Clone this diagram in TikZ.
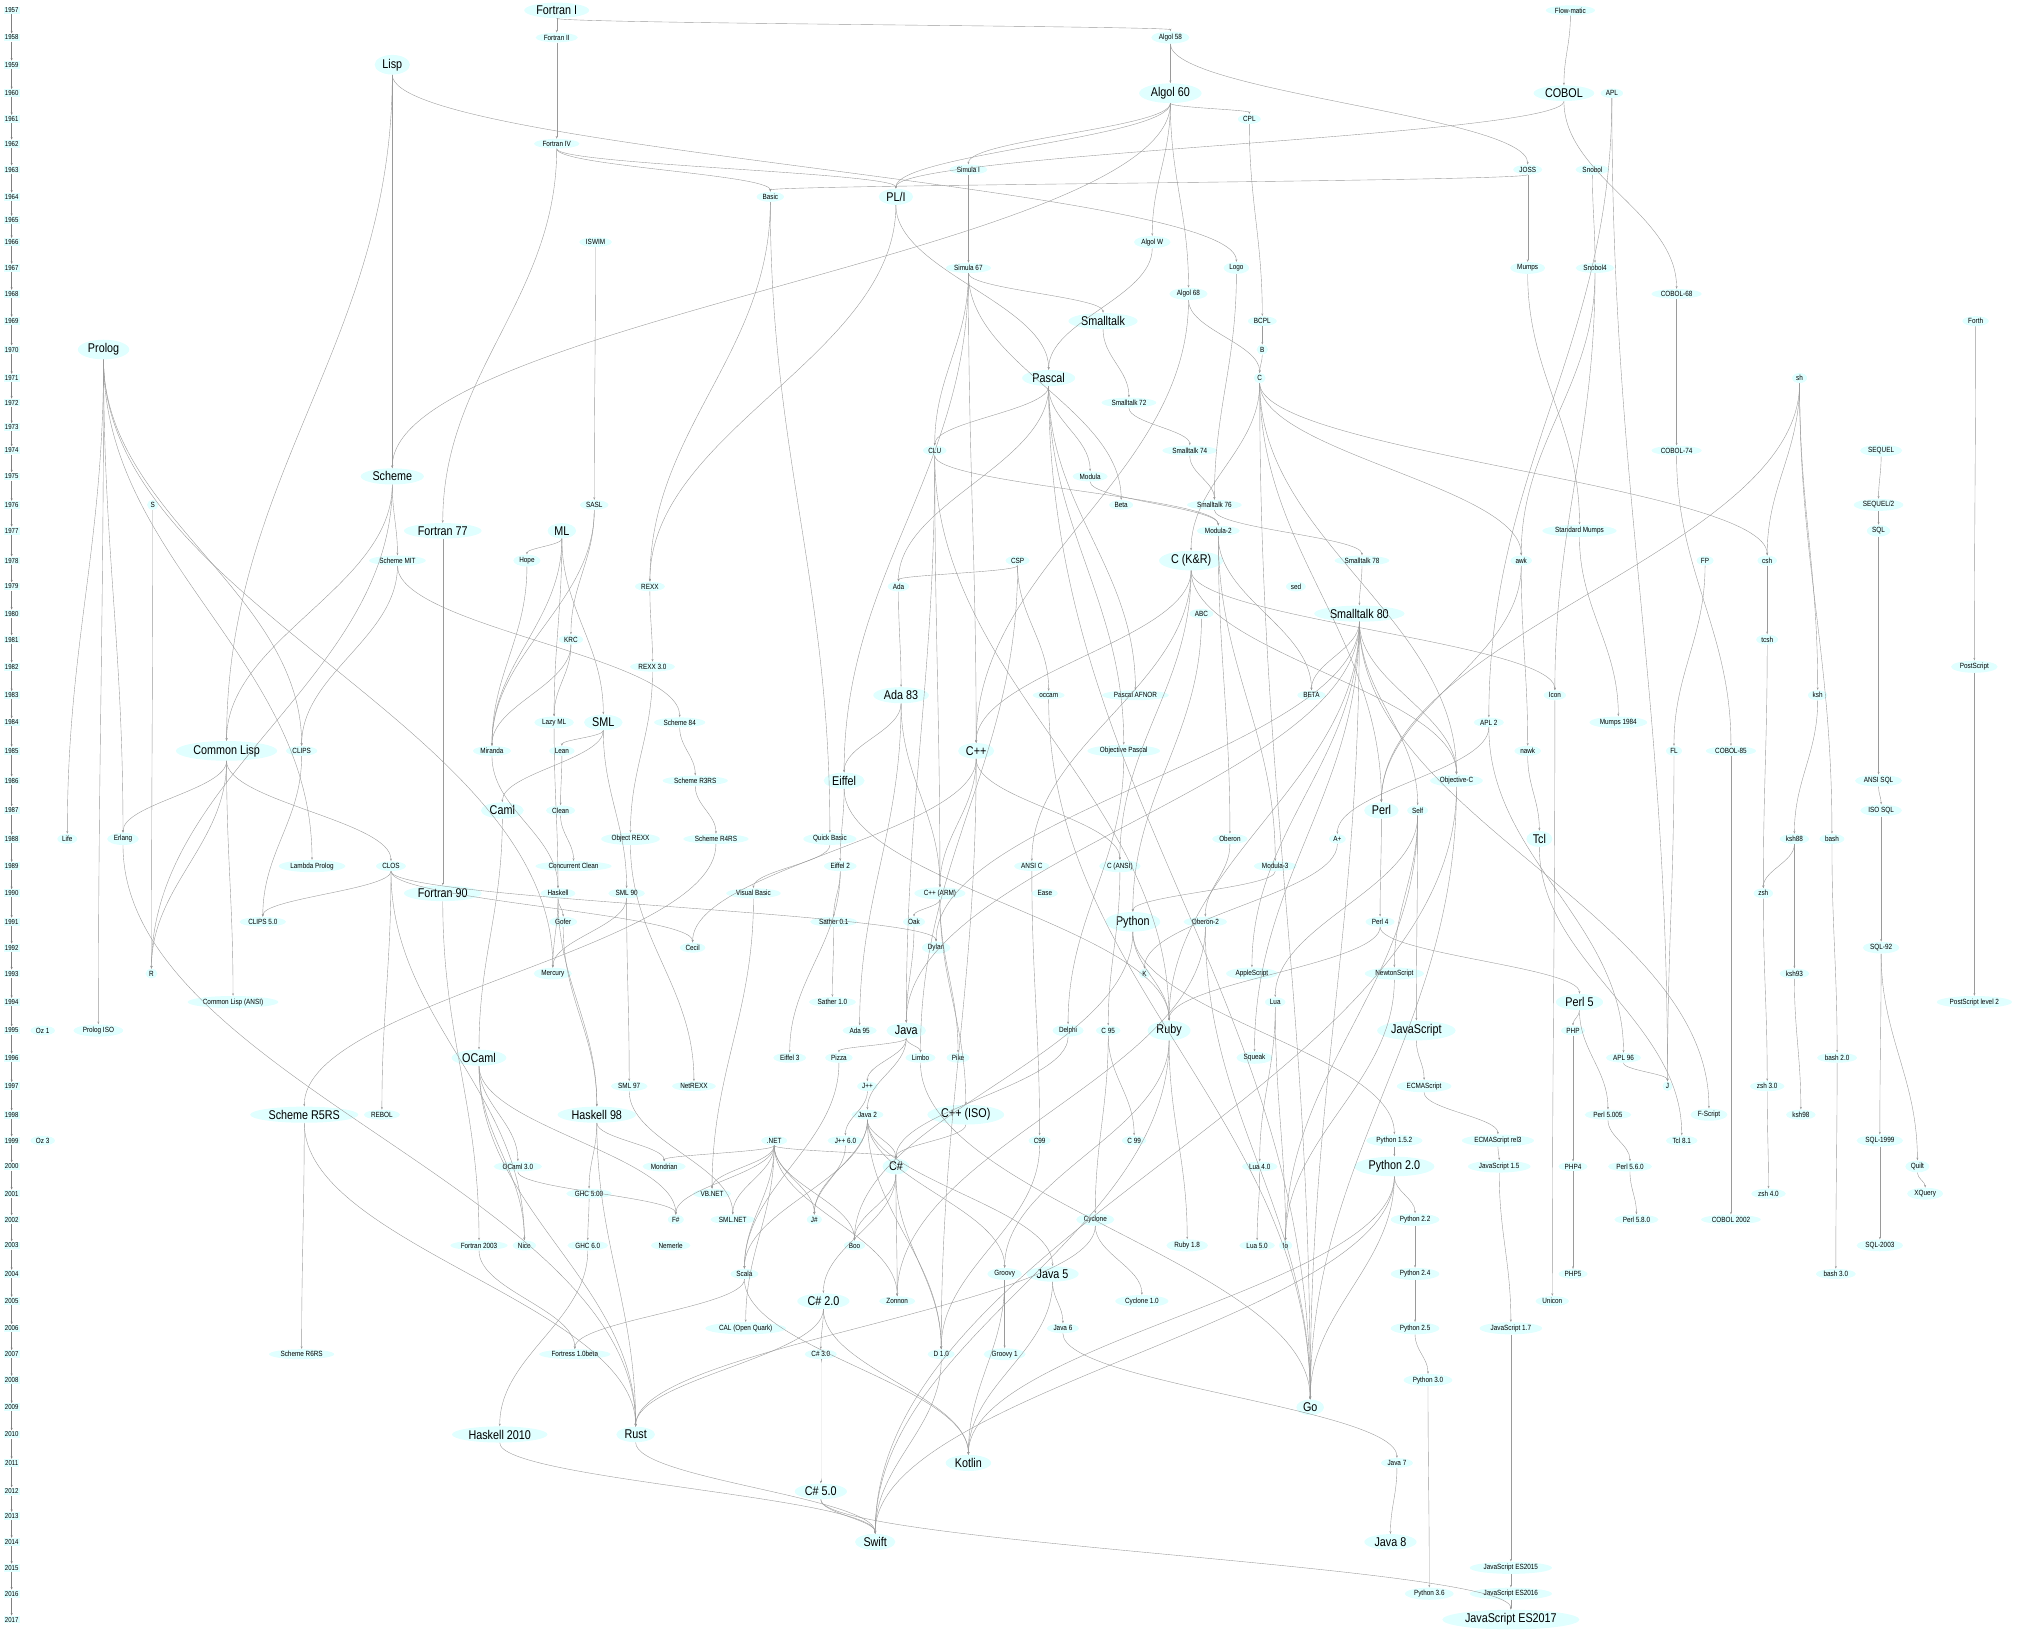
\documentclass[tikz,border=0pt]{standalone}
\usepackage{fontspec}
\setmainfont{Liberation Sans}[FakeStretch=0.85]
\usetikzlibrary{shapes.geometric,arrows.meta,calc}
\definecolor{nodefill}{HTML}{E0FFFF}
\definecolor{edgecol}{HTML}{9A9A9A}
\foreach \yr/\yy in {1957/8,1958/29,1959/50,1960/72,1961/92,1962/111,1963/131,1964/152,1965/170,1966/187,1967/207,1968/227,1969/248,1970/270,1971/292,1972/311,1973/330,1974/348,1975/368,1976/390,1977/410,1978/433,1979/453,1980/474,1981/494,1982/515,1983/537,1984/558,1985/580,1986/603,1987/626,1988/648,1989/669,1990/690,1991/712,1992/732,1993/752,1994/774,1995/796,1996/817,1997/839,1998/861,1999/881,2000/901,2001/922,2002/942,2003/962,2004/984,2005/1005,2006/1026,2007/1046,2008/1066,2009/1087,2010/1108,2011/1130,2012/1152,2013/1171,2014/1191,2015/1211,2016/1231,2017/1251}{\expandafter\xdef\csname yr\yr\endcsname{\yy}}
\newcommand\Ln[4]{\node[sm] (#1) at (#2,-\csname yr#3\endcsname) {#4};}
\newcommand\Bn[4]{\node[bg] (#1) at (#2,-\csname yr#3\endcsname) {#4};}
\begin{document}
\begin{tikzpicture}[x=1pt,y=1pt,
  sm/.style={ellipse,fill=nodefill,inner xsep=1.5pt,inner ysep=0.6pt,font=\fontsize{5.8}{6}\selectfont},
  bg/.style={ellipse,fill=nodefill,inner xsep=2pt,inner ysep=0.8pt,font=\fontsize{9.8}{10}\selectfont},
  yrs/.style={rectangle,fill=nodefill,inner sep=1pt,font=\fontsize{5.5}{6}\selectfont},
  tip/.style={-{Stealth[length=2pt,width=1.5pt]}},
  ed/.style={draw=edgecol,line width=0.3pt,tip}]
\useasboundingbox (0,0) rectangle (1568,-1260);
% years
\foreach \yr in {1957,...,2017}{\node[yrs] (y\yr) at (9,-\csname yr\yr\endcsname) {\yr};}
\foreach \yr [evaluate=\yr as \nx using int(\yr+1)] in {1957,...,2016}{\draw[line width=0.25pt,draw=black!50,tip] (y\yr) -- (y\nx);}
% nodes
\Bn{fortranI}{430}{1957}{Fortran I}
\Ln{flowmatic}{1213}{1957}{Flow-matic}
\Ln{fortranII}{430}{1958}{Fortran II}
\Ln{algol58}{904}{1958}{Algol 58}
\Bn{lisp}{303}{1959}{Lisp}
\Bn{algol60}{904}{1960}{Algol 60}
\Bn{cobol}{1208}{1960}{COBOL}
\Ln{apl}{1245}{1960}{APL}
\Ln{cpl}{965}{1961}{CPL}
\Ln{fortranIV}{430}{1962}{Fortran IV}
\Ln{simulaI}{748}{1963}{Simula I}
\Ln{joss}{1180}{1963}{JOSS}
\Ln{snobol}{1230}{1963}{Snobol}
\Ln{basic}{595}{1964}{Basic}
\Bn{pli}{692}{1964}{PL/I}
\Ln{iswim}{460}{1966}{ISWIM}
\Ln{algolw}{890}{1966}{Algol W}
\Ln{simula67}{748}{1967}{Simula 67}
\Ln{logo}{955}{1967}{Logo}
\Ln{mumps}{1180}{1967}{Mumps}
\Ln{snobol4}{1232}{1967}{Snobol4}
\Ln{algol68}{918}{1968}{Algol 68}
\Ln{cobol68}{1295}{1968}{COBOL-68}
\Bn{smalltalk}{852}{1969}{Smalltalk}
\Ln{bcpl}{975}{1969}{BCPL}
\Ln{forth}{1526}{1969}{Forth}
\Bn{prolog}{80}{1970}{Prolog}
\Ln{bb}{975}{1970}{B}
\Bn{pascal}{810}{1971}{Pascal}
\Ln{cc}{973}{1971}{C}
\Ln{sh}{1390}{1971}{sh}
\Ln{st72}{872}{1972}{Smalltalk 72}
\Ln{clu}{722}{1974}{CLU}
\Ln{st74}{919}{1974}{Smalltalk 74}
\Ln{cobol74}{1295}{1974}{COBOL-74}
\Ln{sequel}{1453}{1974}{SEQUEL}
\Bn{scheme}{303}{1975}{Scheme}
\Ln{modula}{842}{1975}{Modula}
\Ln{ss}{118}{1976}{S}
\Ln{sasl}{459}{1976}{SASL}
\Ln{beta}{866}{1976}{Beta}
\Ln{st76}{938}{1976}{Smalltalk 76}
\Ln{sequel2}{1451}{1976}{SEQUEL/2}
\Bn{fortran77}{342}{1977}{Fortran 77}
\Bn{ml}{434}{1977}{ML}
\Ln{modula2}{941}{1977}{Modula-2}
\Ln{stdmumps}{1220}{1977}{Standard Mumps}
\Ln{sql}{1451}{1977}{SQL}
\Ln{schememit}{307}{1978}{Scheme MIT}
\Ln{hope}{407}{1978}{Hope}
\Ln{csp}{786}{1978}{CSP}
\Bn{ckr}{920}{1978}{C (K\&R)}
\Ln{st78}{1052}{1978}{Smalltalk 78}
\Ln{awk}{1175}{1978}{awk}
\Ln{fp}{1317}{1978}{FP}
\Ln{csh}{1365}{1978}{csh}
\Ln{rexx}{502}{1979}{REXX}
\Ln{ada}{694}{1979}{Ada}
\Ln{sed}{1001}{1979}{sed}
\Ln{abc}{928}{1980}{ABC}
\Bn{st80}{1050}{1980}{Smalltalk 80}
\Ln{krc}{441}{1981}{KRC}
\Ln{tcsh}{1365}{1981}{tcsh}
\Ln{rexx3}{504}{1982}{REXX 3.0}
\Ln{postscript}{1525}{1982}{PostScript}
\Bn{ada83}{696}{1983}{Ada 83}
\Ln{occam}{810}{1983}{occam}
\Ln{pafnor}{877}{1983}{Pascal AFNOR}
\Ln{betaII}{1013}{1983}{BETA}
\Ln{icon}{1201}{1983}{Icon}
\Ln{ksh}{1404}{1983}{ksh}
\Ln{lazyml}{428}{1984}{Lazy ML}
\Bn{sml}{466}{1984}{SML}
\Ln{scheme84}{525}{1984}{Scheme 84}
\Ln{apl2}{1150}{1984}{APL 2}
\Ln{mumps84}{1250}{1984}{Mumps 1984}
\Bn{commonlisp}{175}{1985}{Common Lisp}
\Ln{clips}{233}{1985}{CLIPS}
\Ln{miranda}{380}{1985}{Miranda}
\Ln{lean}{434}{1985}{Lean}
\Bn{cpp}{754}{1985}{C++}
\Ln{objpascal}{868}{1985}{Objective Pascal}
\Ln{nawk}{1180}{1985}{nawk}
\Ln{fl}{1293}{1985}{FL}
\Ln{cobol85}{1337}{1985}{COBOL-85}
\Ln{r3rs}{537}{1986}{Scheme R3RS}
\Bn{eiffel}{652}{1986}{Eiffel}
\Ln{objc}{1125}{1986}{Objective-C}
\Ln{ansisql}{1451}{1986}{ANSI SQL}
\Bn{caml}{388}{1987}{Caml}
\Ln{clean}{433}{1987}{Clean}
\Bn{perl}{1067}{1987}{Perl}
\Ln{self}{1095}{1987}{Self}
\Ln{isosql}{1453}{1987}{ISO SQL}
\Ln{life}{52}{1988}{Life}
\Ln{erlang}{95}{1988}{Erlang}
\Ln{objrexx}{487}{1988}{Object REXX}
\Ln{r4rs}{553}{1988}{Scheme R4RS}
\Ln{quickbasic}{641}{1988}{Quick Basic}
\Ln{oberon}{950}{1988}{Oberon}
\Ln{aplus}{1033}{1988}{A+}
\Bn{tcl}{1189}{1988}{Tcl}
\Ln{ksh88}{1386}{1988}{ksh88}
\Ln{bash}{1415}{1988}{bash}
\Ln{lambdaprolog}{241}{1989}{Lambda Prolog}
\Ln{clos}{302}{1989}{CLOS}
\Ln{cclean}{443}{1989}{Concurrent Clean}
\Ln{eiffel2}{649}{1989}{Eiffel 2}
\Ln{ansic}{797}{1989}{ANSI C}
\Ln{cansi}{865}{1989}{C (ANSI)}
\Ln{modula3}{985}{1989}{Modula-3}
\Bn{fortran90}{342}{1990}{Fortran 90}
\Ln{haskell}{431}{1990}{Haskell}
\Ln{sml90}{484}{1990}{SML 90}
\Ln{vb}{582}{1990}{Visual Basic}
\Ln{cpparm}{726}{1990}{C++ (ARM)}
\Ln{ease}{807}{1990}{Ease}
\Ln{zsh}{1362}{1990}{zsh}
\Ln{clips5}{203}{1991}{CLIPS 5.0}
\Ln{gofer}{435}{1991}{Gofer}
\Ln{sather}{644}{1991}{Sather 0.1}
\Ln{oak}{706}{1991}{Oak}
\Bn{python}{875}{1991}{Python}
\Ln{oberon2}{931}{1991}{Oberon-2}
\Ln{perl4}{1066}{1991}{Perl 4}
\Ln{cecil}{535}{1992}{Cecil}
\Ln{dylan}{723}{1992}{Dylan}
\Ln{sql92}{1453}{1992}{SQL-92}
\Ln{rr}{117}{1993}{R}
\Ln{mercury}{427}{1993}{Mercury}
\Ln{kk}{884}{1993}{K}
\Ln{applescript}{967}{1993}{AppleScript}
\Ln{newtonscript}{1077}{1993}{NewtonScript}
\Ln{ksh93}{1386}{1993}{ksh93}
\Ln{clansi}{180}{1994}{Common Lisp (ANSI)}
\Ln{sather1}{643}{1994}{Sather 1.0}
\Ln{lua}{985}{1994}{Lua}
\Bn{perl5}{1220}{1994}{Perl 5}
\Ln{ps2}{1525}{1994}{PostScript level 2}
\Ln{oz1}{33}{1995}{Oz 1}
\Ln{prologiso}{76}{1995}{Prolog ISO}
\Ln{ada95}{664}{1995}{Ada 95}
\Bn{java}{700}{1995}{Java}
\Ln{delphi}{825}{1995}{Delphi}
\Ln{c95}{856}{1995}{C 95}
\Bn{ruby}{903}{1995}{Ruby}
\Bn{javascript}{1094}{1995}{JavaScript}
\Ln{php}{1215}{1995}{PHP}
\Bn{ocaml}{370}{1996}{OCaml}
\Ln{eiffel3}{610}{1996}{Eiffel 3}
\Ln{pizza}{648}{1996}{Pizza}
\Ln{limbo}{711}{1996}{Limbo}
\Ln{pike}{740}{1996}{Pike}
\Ln{squeak}{969}{1996}{Squeak}
\Ln{apl96}{1254}{1996}{APL 96}
\Ln{bash2}{1419}{1996}{bash 2.0}
\Ln{sml97}{486}{1997}{SML 97}
\Ln{netrexx}{536}{1997}{NetREXX}
\Ln{jpp}{670}{1997}{J++}
\Ln{ecmascript}{1100}{1997}{ECMAScript}
\Ln{jj}{1288}{1997}{J}
\Ln{zsh3}{1365}{1997}{zsh 3.0}
\Bn{r5rs}{235}{1998}{Scheme R5RS}
\Ln{rebol}{295}{1998}{REBOL}
\Bn{haskell98}{461}{1998}{Haskell 98}
\Ln{java2}{670}{1998}{Java 2}
\Bn{cppiso}{746}{1998}{C++ (ISO)}
\Ln{perl5005}{1242}{1998}{Perl 5.005}
\Ln{fscript}{1320}{1998}{F-Script}
\Ln{ksh98}{1391}{1998}{ksh98}
\Ln{oz3}{33}{1999}{Oz 3}
\Ln{dotnet}{598}{1999}{.NET}
\Ln{jpp6}{653}{1999}{J++ 6.0}
\Ln{cninenine}{803}{1999}{C99}
\Ln{cspnine}{876}{1999}{C 99}
\Ln{python152}{1077}{1999}{Python 1.5.2}
\Ln{ecma3}{1157}{1999}{ECMAScript rel3}
\Ln{tcl81}{1299}{1999}{Tcl 8.1}
\Ln{sql1999}{1452}{1999}{SQL-1999}
\Ln{ocaml3}{400}{2000}{OCaml 3.0}
\Ln{mondrian}{513}{2000}{Mondrian}
\Bn{csharp}{692}{2000}{C\#}
\Ln{lua4}{973}{2000}{Lua 4.0}
\Bn{python2}{1077}{2000}{Python 2.0}
\Ln{js15}{1158}{2000}{JavaScript 1.5}
\Ln{php4}{1215}{2000}{PHP4}
\Ln{perl560}{1259}{2000}{Perl 5.6.0}
\Ln{quilt}{1481}{2000}{Quilt}
\Ln{ghc5}{455}{2001}{GHC 5.00}
\Ln{vbnet}{550}{2001}{VB.NET}
\Ln{zsh4}{1366}{2001}{zsh 4.0}
\Ln{xquery}{1487}{2001}{XQuery}
\Ln{fsharp}{522}{2002}{F\#}
\Ln{smlnet}{566}{2002}{SML.NET}
\Ln{jsharp}{629}{2002}{J\#}
\Ln{cyclone}{846}{2002}{Cyclone}
\Ln{python22}{1093}{2002}{Python 2.2}
\Ln{perl580}{1264}{2002}{Perl 5.8.0}
\Ln{cobol2002}{1337}{2002}{COBOL 2002}
\Ln{fortran2003}{370}{2003}{Fortran 2003}
\Ln{nice}{405}{2003}{Nice}
\Ln{ghc6}{454}{2003}{GHC 6.0}
\Ln{nemerle}{518}{2003}{Nemerle}
\Ln{boo}{660}{2003}{Boo}
\Ln{ruby18}{917}{2003}{Ruby 1.8}
\Ln{lua5}{971}{2003}{Lua 5.0}
\Ln{io}{993}{2003}{Io}
\Ln{sql2003}{1452}{2003}{SQL-2003}
\Ln{scala}{575}{2004}{Scala}
\Ln{groovy}{776}{2004}{Groovy}
\Bn{java5}{813}{2004}{Java 5}
\Ln{python24}{1093}{2004}{Python 2.4}
\Ln{php5}{1215}{2004}{PHP5}
\Ln{bash3}{1418}{2004}{bash 3.0}
\Bn{csharp2}{636}{2005}{C\# 2.0}
\Ln{zonnon}{693}{2005}{Zonnon}
\Ln{cyclone1}{882}{2005}{Cyclone 1.0}
\Ln{unicon}{1199}{2005}{Unicon}
\Ln{cal}{576}{2006}{CAL (Open Quark)}
\Ln{java6}{821}{2006}{Java 6}
\Ln{python25}{1093}{2006}{Python 2.5}
\Ln{js17}{1167}{2006}{JavaScript 1.7}
\Ln{r6rs}{233}{2007}{Scheme R6RS}
\Ln{fortress}{444}{2007}{Fortress 1.0beta}
\Ln{csharp3}{634}{2007}{C\# 3.0}
\Ln{d1}{727}{2007}{D 1.0}
\Ln{groovy1}{776}{2007}{Groovy 1}
\Ln{python3}{1103}{2008}{Python 3.0}
\Bn{go}{1012}{2009}{Go}
\Bn{haskell2010}{386}{2010}{Haskell 2010}
\Bn{rust}{491}{2010}{Rust}
\Bn{kotlin}{748}{2011}{Kotlin}
\Ln{java7}{1079}{2011}{Java 7}
\Bn{csharp5}{634}{2012}{C\# 5.0}
\Bn{swift}{676}{2014}{Swift}
\Bn{java8}{1074}{2014}{Java 8}
\Ln{es2015}{1167}{2015}{JavaScript ES2015}
\Ln{python36}{1104}{2016}{Python 3.6}
\Ln{es2016}{1167}{2016}{JavaScript ES2016}
\Bn{es2017}{1167}{2017}{JavaScript ES2017}
% edges
\foreach \a/\b in {fortranI/fortranII,fortranI/algol58,fortranII/fortranIV,flowmatic/cobol,algol58/algol60,algol58/joss,
lisp/scheme,lisp/commonlisp,lisp/logo,algol60/cpl,algol60/simulaI,algol60/algolw,algol60/algol68,algol60/pli,algol60/scheme,
fortranIV/basic,fortranIV/pli,fortranIV/fortran77,cobol/pli,cobol/cobol68,apl/apl2,apl/jj,joss/basic,joss/mumps,
cpl/bcpl,bcpl/bb,bb/cc,snobol/snobol4,snobol4/icon,snobol4/awk,simulaI/simula67,simula67/smalltalk,simula67/clu,simula67/cpp,
simula67/beta,simula67/eiffel,pli/pascal,pli/rexx,basic/quickbasic,basic/rexx,algolw/pascal,algol68/cc,algol68/cpp,logo/st76,
smalltalk/st72,st72/st74,st74/st76,st76/st78,st78/st80,mumps/stdmumps,stdmumps/mumps84,cobol68/cobol74,cobol74/cobol85,cobol85/cobol2002,
forth/postscript,postscript/ps2,prolog/life,prolog/erlang,prolog/prologiso,prolog/lambdaprolog,prolog/mercury,prolog/clips,
pascal/clu,pascal/modula,pascal/ada,pascal/pafnor,pascal/go,pascal/objpascal,cc/ckr,cc/csh,cc/go,cc/awk,sh/csh,sh/ksh,sh/bash,sh/perl,
clu/cpparm,clu/modula2,clu/java,clu/ruby,modula/modula2,modula2/oberon,modula2/modula3,modula2/betaII,
sequel/sequel2,sequel2/sql,sql/ansisql,ansisql/isosql,isosql/sql92,sql92/sql1999,sql1999/sql2003,sql92/quilt,quilt/xquery,
ss/rr,scheme/schememit,scheme/rr,scheme/commonlisp,schememit/scheme84,scheme84/r3rs,r3rs/r4rs,r4rs/r5rs,r5rs/r6rs,schememit/clips,
iswim/sasl,sasl/krc,sasl/miranda,ml/hope,ml/sml,ml/lazyml,ml/miranda,hope/miranda,krc/miranda,krc/lazyml,lazyml/haskell,
sml/sml90,sml/caml,sml/lean,lean/clean,clean/cclean,miranda/haskell,caml/ocaml,haskell/gofer,haskell/haskell98,haskell/mercury,gofer/haskell98,
sml90/sml97,sml90/mercury,sml97/smlnet,haskell98/mondrian,haskell98/ghc5,haskell98/rust,ghc5/ghc6,ghc6/haskell2010,haskell2010/swift,
ocaml/ocaml3,ocaml/fsharp,ocaml/nice,ocaml/rust,ocaml3/fsharp,r5rs/rust,fortran77/fortran90,fortran90/fortran2003,fortran2003/fortress,
commonlisp/clansi,commonlisp/clos,commonlisp/erlang,commonlisp/rr,clos/dylan,clos/rebol,clos/cecil,clos/nice,clos/clips5,clips/clips5,
csp/occam,csp/ada,csp/limbo,occam/go,ckr/cpp,ckr/objc,ckr/ansic,ckr/cansi,ckr/icon,ada/ada83,ada83/ada95,ada83/eiffel,ada83/cpparm,
cpp/cpparm,cpp/cansi,cpp/d1,cpp/cecil,cpparm/cppiso,cpparm/oak,cpparm/pike,eiffel/eiffel2,eiffel2/eiffel3,eiffel2/sather,sather/sather1,eiffel/ruby,
st80/objc,st80/self,st80/squeak,st80/applescript,st80/ruby,st80/java,st80/dylan,st80/fscript,st80/betaII,st80/go,
abc/python,modula3/python,oberon/oberon2,python/python152,python152/python2,python2/python22,python22/python24,python24/python25,
python25/python3,python3/python36,python/ruby,python2/go,python2/swift,python2/kotlin,perl/perl4,perl4/perl5,perl5/perl5005,perl5005/perl560,perl560/perl580,
perl4/ruby,perl5/php,php/php4,php4/php5,awk/nawk,awk/perl,nawk/tcl,tcl/tcl81,self/newtonscript,self/javascript,self/lua,self/io,newtonscript/io,
lua/lua4,lua4/lua5,lua/io,javascript/ecmascript,ecmascript/ecma3,ecma3/js15,js15/js17,js17/es2015,es2015/es2016,es2016/es2017,csharp5/es2017,
apl2/apl96,apl96/jj,apl2/aplus,aplus/kk,fp/fl,fl/jj,ksh/ksh88,ksh88/ksh93,ksh93/ksh98,csh/tcsh,tcsh/zsh,ksh88/zsh,zsh/zsh3,zsh3/zsh4,
bash/bash2,bash2/bash3,oak/java,java/pizza,java/limbo,java/jpp,java/java2,jpp/jpp6,jpp6/jsharp,java2/csharp,java2/groovy,java2/java5,
java2/scala,java2/d1,java2/jsharp,java5/java6,java6/java7,java7/java8,java5/kotlin,pizza/scala,limbo/go,objpascal/delphi,delphi/csharp,
csharp/csharp2,csharp2/csharp3,csharp3/csharp5,csharp5/swift,csharp/boo,csharp/d1,csharp/zonnon,csharp2/kotlin,csharp2/rust,
dotnet/vbnet,dotnet/smlnet,dotnet/jsharp,dotnet/scala,dotnet/boo,dotnet/zonnon,dotnet/cal,dotnet/fsharp,dotnet/csharp,dotnet/mondrian,
vb/vbnet,quickbasic/vb,oberon2/zonnon,oberon2/go,cansi/c95,c95/cspnine,ansic/cninenine,c95/cyclone,cyclone/cyclone1,cyclone/rust,
cninenine/d1,ruby/ruby18,ruby/groovy,ruby/swift,scala/kotlin,scala/fortress,groovy/groovy1,groovy/kotlin,d1/swift,objc/swift,objc/go,
erlang/rust,rust/swift,cppiso/csharp,python/boo,rexx/rexx3,rexx3/objrexx,objrexx/netrexx,icon/unicon,cc/perl,cc/objc}
{\draw[ed] let \p1=(\a.south), \p2=(\b.north), \n1={0.4*(\y1-\y2)} in (\p1) .. controls +(0,-\n1) and +(0,\n1) .. (\p2);}
\end{tikzpicture}
\end{document}
